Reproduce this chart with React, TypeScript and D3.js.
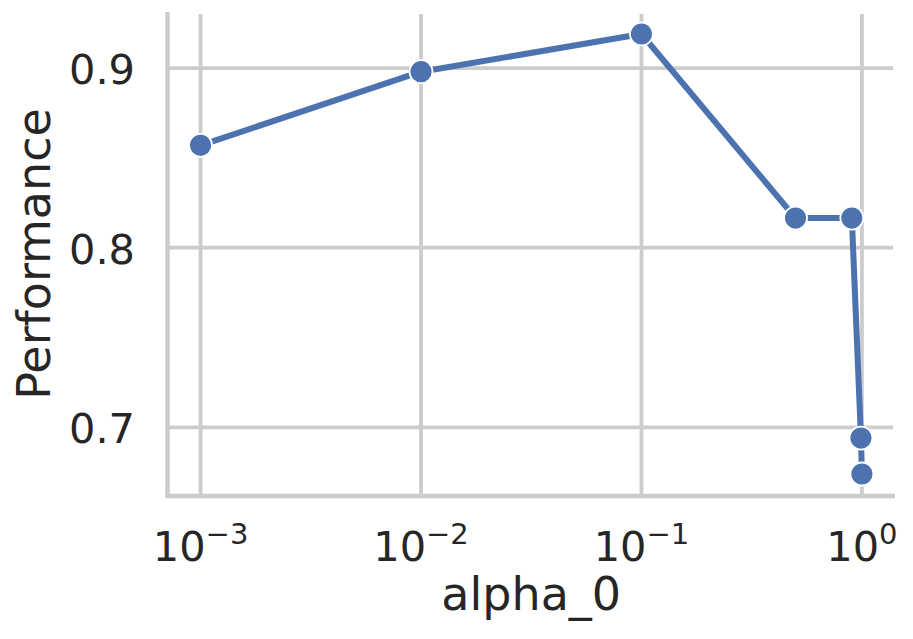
import React from "react";
import * as d3 from "d3";

const alphas: number[] = [0.001, 0.01, 0.1, 0.5, 0.9, 0.99, 1.0];
const performance: number[] = [0.857, 0.898, 0.919, 0.8165, 0.8165, 0.694, 0.674];
const xTickExps: number[] = [-3, -2, -1, 0];
const yTicks: number[] = [0.7, 0.8, 0.9];
const xLabel = "alpha_0";
const yLabel = "Performance";

const W = 913;
const H = 639;
const left = 167.5;
const right = 895;
const top = 12;
const bottom = 496;
const FONT = "'DejaVu Sans', sans-serif";
const TEXT = "#262626";
const GRID = "#cccccc";
const BLUE = "#4c72b0";

export default function App() {
  const lx = alphas.map((a) => Math.log10(a));
  const lxMin = d3.min(lx)!;
  const lxMax = d3.max(lx)!;
  const lm = (lxMax - lxMin) * 0.05;
  const x = d3
    .scaleLog()
    .domain([Math.pow(10, lxMin - lm), Math.pow(10, lxMax + lm)])
    .range([left, right]);
  const yMin = d3.min(performance)!;
  const yMax = d3.max(performance)!;
  const ym = (yMax - yMin) * 0.05;
  const y = d3
    .scaleLinear()
    .domain([yMin - ym, yMax + ym])
    .range([bottom, top]);

  const pts: [number, number][] = alphas.map((a, i) => [a, performance[i]]);
  const line = d3
    .line<[number, number]>()
    .x((d) => x(d[0]))
    .y((d) => y(d[1]));

  return (
    <svg
      width={W}
      height={H}
      style={{ position: "absolute", left: 0, top: 0, background: "#fff" }}
      fontFamily={FONT}
    >
      {/* grid */}
      {xTickExps.map((e) => (
        <line
          key={"gx" + e}
          x1={x(Math.pow(10, e))}
          x2={x(Math.pow(10, e))}
          y1={top + 2}
          y2={bottom}
          stroke={GRID}
          strokeWidth={3.8}
        />
      ))}
      {yTicks.map((t) => (
        <line
          key={"gy" + t}
          x1={left}
          x2={right - 2}
          y1={y(t)}
          y2={y(t)}
          stroke={GRID}
          strokeWidth={3.8}
        />
      ))}
      {/* spines */}
      <line x1={left} x2={left} y1={top} y2={bottom + 2} stroke={GRID} strokeWidth={4.5} />
      <line x1={left - 2} x2={right} y1={bottom} y2={bottom} stroke={GRID} strokeWidth={4.5} />
      {/* line */}
      <path d={line(pts) || ""} fill="none" stroke={BLUE} strokeWidth={6} strokeLinejoin="round" strokeLinecap="round" />
      {pts.map((p, i) => (
        <circle key={"m" + i} cx={x(p[0])} cy={y(p[1])} r={11.5} fill={BLUE} stroke="#fff" strokeWidth={1.8} />
      ))}
      {/* y tick labels */}
      {yTicks.map((t) => (
        <text
          key={"yt" + t}
          x={135}
          y={y(t) + 16}
          textAnchor="end"
          fontSize={41.5}
          fill={TEXT}
        >
          {d3.format(".1f")(t)}
        </text>
      ))}
      {/* x tick labels */}
      {xTickExps.map((e) => (
        <text
          key={"xt" + e}
          x={x(Math.pow(10, e))}
          y={560.5}
          textAnchor="middle"
          fontSize={41.5}
          fill={TEXT}
        >
          <tspan>10</tspan>
          <tspan fontSize={29} dy={-17}>
            {e < 0 ? "\u2212" + Math.abs(e) : String(e)}
          </tspan>
        </text>
      ))}
      {/* axis labels */}
      <text x={(left + right) / 2} y={610} textAnchor="middle" fontSize={46} fill={TEXT}>
        {xLabel}
      </text>
      <text
        transform={`translate(50, ${(top + bottom) / 2}) rotate(-90)`}
        textAnchor="middle"
        fontSize={46}
        fill={TEXT}
      >
        {yLabel}
      </text>
    </svg>
  );
}
